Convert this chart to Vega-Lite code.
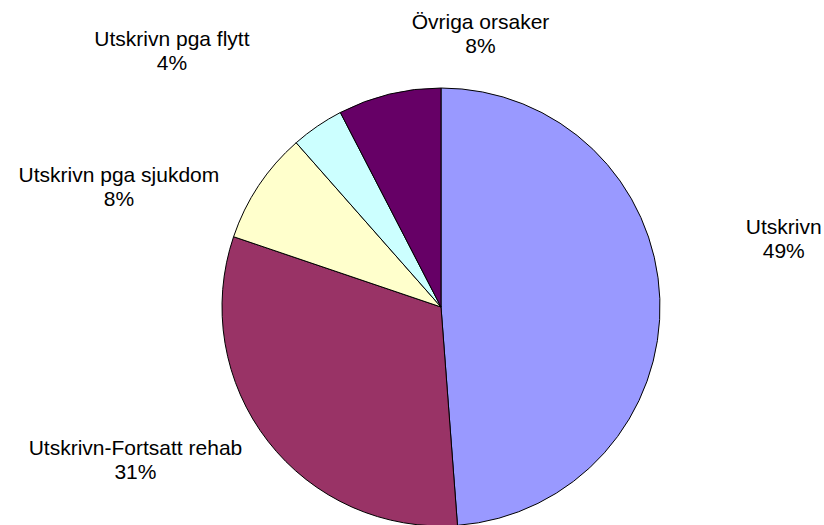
{
  "$schema": "https://vega.github.io/schema/vega-lite/v6.json",
  "autosize": "none",
  "width": 766,
  "height": 436,
  "padding": {"left": 58, "top": 89, "right": 0, "bottom": 0},
  "background": "white",
  "config": {"view": {"stroke": null}, "text": {"font": "Liberation Sans", "fontSize": 21, "lineBreak": "\n", "lineHeight": 24, "color": "black", "align": "center", "baseline": "middle"}},
  "data": {
    "values": [
      {"kategori": "Utskrivn", "andel": 48.8, "ordning": 1, "etikett": "Utskrivn\n49%"},
      {"kategori": "Utskrivn-Fortsatt rehab", "andel": 31.4, "ordning": 2, "etikett": "Utskrivn-Fortsatt rehab\n31%"},
      {"kategori": "Utskrivn pga sjukdom", "andel": 8.3, "ordning": 3, "etikett": "Utskrivn pga sjukdom\n8%"},
      {"kategori": "Utskrivn pga flytt", "andel": 3.9, "ordning": 4, "etikett": "Utskrivn pga flytt\n4%"},
      {"kategori": "Övriga orsaker", "andel": 7.6, "ordning": 5, "etikett": "Övriga orsaker\n8%"}
    ]
  },
  "encoding": {
    "theta": {"field": "andel", "type": "quantitative", "stack": true},
    "order": {"field": "ordning", "type": "quantitative"}
  },
  "layer": [
    {
      "mark": {"type": "arc", "outerRadius": 219, "stroke": "black", "strokeWidth": 1},
      "encoding": {
        "color": {
          "field": "kategori",
          "type": "nominal",
          "scale": {
            "domain": ["Utskrivn", "Utskrivn-Fortsatt rehab", "Utskrivn pga sjukdom", "Utskrivn pga flytt", "Övriga orsaker"],
            "range": ["#9999FF", "#993366", "#FFFFCC", "#CCFFFF", "#660066"]
          },
          "legend": null
        }
      }
    },
    {
      "mark": {"type": "text", "radius": 343, "dy": -66},
      "encoding": {"text": {"condition": {"test": "datum.kategori === 'Utskrivn'", "field": "etikett"}, "value": ""}}
    },
    {
      "mark": {"type": "text", "radius": 250, "dx": -108, "dy": -11},
      "encoding": {"text": {"condition": {"test": "datum.kategori === 'Utskrivn-Fortsatt rehab'", "field": "etikett"}, "value": ""}}
    },
    {
      "mark": {"type": "text", "radius": 250, "dx": -114, "dy": 8},
      "encoding": {"text": {"condition": {"test": "datum.kategori === 'Utskrivn pga sjukdom'", "field": "etikett"}, "value": ""}}
    },
    {
      "mark": {"type": "text", "radius": 280, "dx": -111, "dy": -36},
      "encoding": {"text": {"condition": {"test": "datum.kategori === 'Utskrivn pga flytt'", "field": "etikett"}, "value": ""}}
    },
    {
      "mark": {"type": "text", "radius": 260, "dx": 101, "dy": -31},
      "encoding": {"text": {"condition": {"test": "datum.kategori === 'Övriga orsaker'", "field": "etikett"}, "value": ""}}
    }
  ]
}
